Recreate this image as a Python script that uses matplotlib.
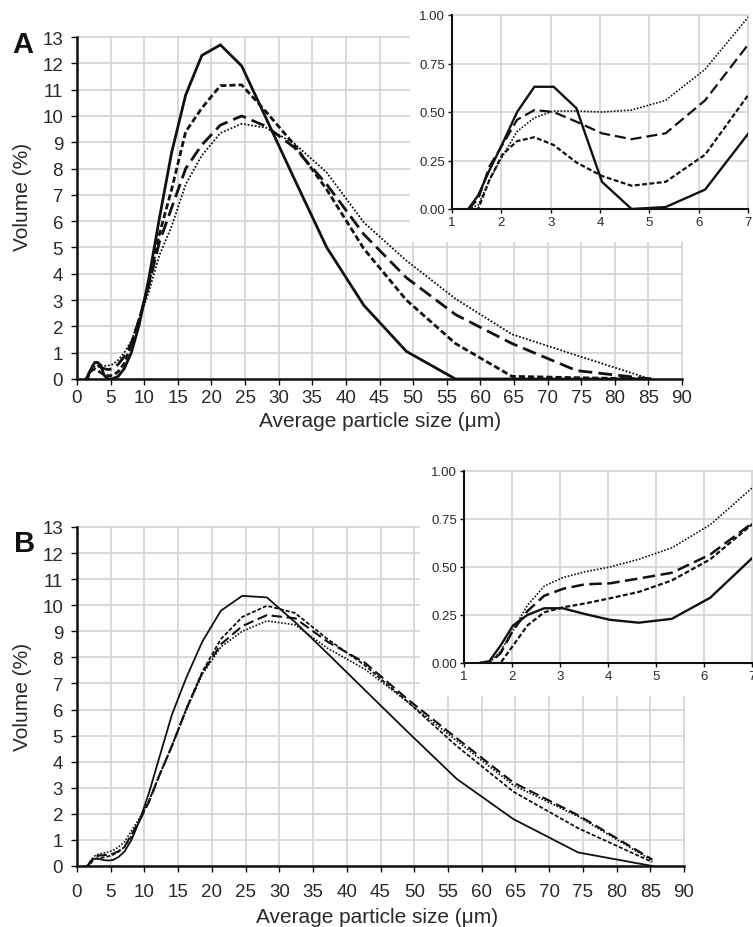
import matplotlib
matplotlib.use('Agg')
import matplotlib.pyplot as plt
from matplotlib.patches import Rectangle

plt.rcParams['font.family'] = ['Liberation Sans', 'DejaVu Sans']

# particle size bins (um)
size = [1.33, 1.53, 1.76, 2.02, 2.32, 2.67, 3.06, 3.52, 4.04, 4.64, 5.33,
        6.13, 7.04, 8.08, 9.29, 10.67, 12.25, 14.07, 16.17, 18.57, 21.33,
        24.5, 28.15, 32.34, 37.15, 42.67, 49.0, 56.3, 64.7, 74.3, 85.3]

# panel A, volume (%)
a_solid = [0, 0.07, 0.2, 0.335, 0.5, 0.63, 0.63, 0.52, 0.14, 0.0, 0.01, 0.1,
           0.4, 1.0, 2.1, 3.8, 6.1, 8.6, 10.8, 12.3, 12.7, 11.9, 9.9, 7.6,
           5.0, 2.8, 1.05, 0.0, 0.0, 0.0, 0.0]
a_short = [0, 0.0, 0.15, 0.28, 0.35, 0.37, 0.33, 0.24, 0.17, 0.12, 0.14, 0.28,
           0.6, 1.3, 2.3, 3.6, 5.5, 7.2, 9.4, 10.3, 11.15, 11.18, 10.15, 8.9,
           7.2, 4.95, 3.0, 1.35, 0.1, 0.05, 0.0]
a_long = [0, 0.05, 0.22, 0.33, 0.46, 0.51, 0.5, 0.45, 0.39, 0.36, 0.39, 0.56,
          0.86, 1.35, 2.3, 3.55, 5.2, 6.5, 8.0, 8.9, 9.65, 10.0, 9.6, 8.8,
          7.4, 5.5, 3.85, 2.45, 1.35, 0.32, 0.0]
a_dot = [0, 0.02, 0.15, 0.27, 0.4, 0.47, 0.505, 0.505, 0.5, 0.51, 0.56, 0.72,
         1.0, 1.45, 2.3, 3.3, 4.7, 5.8, 7.4, 8.5, 9.35, 9.7, 9.55, 8.95,
         7.85, 5.95, 4.5, 3.05, 1.7, 0.9, 0.0]

# panel B, volume (%)
b_solid = [0, 0.01, 0.09, 0.195, 0.25, 0.285, 0.285, 0.255, 0.225, 0.21, 0.23,
           0.34, 0.555, 1.0, 1.75, 2.8, 4.2, 5.8, 7.2, 8.6, 9.79, 10.36, 10.3,
           9.35, 8.15, 6.75, 5.15, 3.34, 1.8, 0.52, 0.0]
b_short = [0, 0, 0, 0.09, 0.195, 0.264, 0.29, 0.31, 0.337, 0.37, 0.43, 0.54,
           0.73, 1.15, 1.75, 2.5, 3.5, 4.6, 6.0, 7.45, 8.7, 9.55, 9.98, 9.7,
           8.7, 7.7, 6.3, 4.6, 2.85, 1.45, 0.15]
b_long = [0, 0, 0.05, 0.17, 0.27, 0.35, 0.386, 0.41, 0.415, 0.44, 0.47, 0.565,
          0.735, 1.2, 1.75, 2.45, 3.5, 4.6, 6.0, 7.4, 8.5, 9.2, 9.62, 9.5,
          8.6, 7.8, 6.4, 4.9, 3.2, 1.95, 0.25]
b_dot = [0, 0, 0.06, 0.17, 0.3, 0.4, 0.445, 0.475, 0.5, 0.54, 0.6, 0.72,
         0.92, 1.35, 1.85, 2.5, 3.5, 4.6, 5.95, 7.35, 8.4, 9.0, 9.4, 9.25,
         8.35, 7.55, 6.3, 4.8, 3.1, 1.9, 0.2]

main_xticks = list(range(0, 95, 5))
main_yticks = list(range(0, 14))
inset_xticks = [1, 2, 3, 4, 5, 6, 7]
inset_yticks = [0.0, 0.25, 0.5, 0.75, 1.0]

GRID = '#d3d3d3'
INK = '#111111'
TXT = '#2a2a2a'

W, H = 753, 928
fig = plt.figure(figsize=(W / 100, H / 100), dpi=100)


def fx(px):
    return px / W


def fy(py):
    return 1 - py / H


def draw_lines(ax, series, lws):
    s, sd, ld, dt = series
    ax.plot(size, s, color=INK, lw=lws[0], solid_joinstyle='miter')
    ax.plot(size, sd, color=INK, lw=lws[1], dashes=(2.2, 1.1))
    ax.plot(size, ld, color=INK, lw=lws[2], dashes=(5.0, 2.2))
    ax.plot(size, dt, color=INK, lw=lws[3], dashes=(1.0, 1.0))


def style(ax, labelsize, spw, ticklen, xpad, ypad):
    for side in ['top', 'right']:
        ax.spines[side].set_visible(False)
    for side in ['left', 'bottom']:
        ax.spines[side].set_linewidth(spw)
        ax.spines[side].set_color(INK)
        ax.spines[side].set_zorder(4)
    ax.grid(True, color=GRID, lw=1.2)
    ax.set_axisbelow(True)
    ax.tick_params(direction='out', length=ticklen, width=1.0, color=INK,
                   labelsize=labelsize, labelcolor=TXT)
    ax.tick_params(axis='x', pad=xpad)
    ax.tick_params(axis='y', pad=ypad)


def panel(box, inset_box, white_box, series, main_lws, inset_lws, letter,
          letter_pos, ylab_y, xlab_pos, xpad):
    l, t, r, b = box
    ax = fig.add_axes([fx(l), fy(b), fx(r - l), (b - t) / H], zorder=0)
    draw_lines(ax, series, main_lws)
    ax.set_xlim(0, 90)
    ax.set_ylim(0, 13)
    ax.set_xticks(main_xticks)
    ax.set_yticks(main_yticks)
    style(ax, 13.5, 1.8, 4.5, xpad, 5.5)
    for ln in ax.get_xgridlines() + ax.get_ygridlines():
        ln.set_clip_on(False)

    wl, wt, wr, wb = white_box
    fig.add_artist(Rectangle((fx(wl), fy(wb)), fx(wr - wl), (wb - wt) / H,
                             transform=fig.transFigure, facecolor='white',
                             edgecolor='none', zorder=1))

    il, it, ir, ib = inset_box
    ins = fig.add_axes([fx(il), fy(ib), fx(ir - il), (ib - it) / H], zorder=2)
    draw_lines(ins, series, inset_lws)
    ins.set_xlim(1, 7)
    ins.set_ylim(0, 1)
    ins.set_xticks(inset_xticks)
    ins.set_yticks(inset_yticks)
    ins.set_yticklabels(['%.2f' % v for v in inset_yticks])
    style(ins, 9.5, 1.5, 3, 2, 2)
    for ln in ins.get_xgridlines() + ins.get_ygridlines():
        ln.set_clip_on(False)

    fig.text(fx(letter_pos[0]), fy(letter_pos[1]), letter, fontsize=21,
             fontweight='bold', color=INK, ha='left', va='baseline')
    fig.text(fx(23), fy(ylab_y), 'Volume (%)', rotation=90, fontsize=15,
             color=TXT, ha='center', va='center')
    fig.text(fx(xlab_pos[0]), fy(xlab_pos[1]), 'Average particle size (\u03bcm)',
             fontsize=15, color=TXT, ha='center', va='center')


panel((77, 38, 682, 380), (452, 16, 748, 210), (410, 0, 753, 243),
      (a_solid, a_short, a_long, a_dot), (2.0, 2.0, 2.0, 1.3),
      (1.7, 1.6, 1.6, 1.2), 'A', (12, 53), 197, (380, 422), 3.0)

panel((77, 528, 684, 867), (464, 472, 752, 664), (420, 450, 753, 697),
      (b_solid, b_short, b_long, b_dot), (1.3, 1.3, 1.5, 1.2),
      (1.7, 1.6, 1.8, 1.2), 'B', (14, 552), 697, (377, 918), 7.5)

fig.savefig('out.png', dpi=100, facecolor='white')
